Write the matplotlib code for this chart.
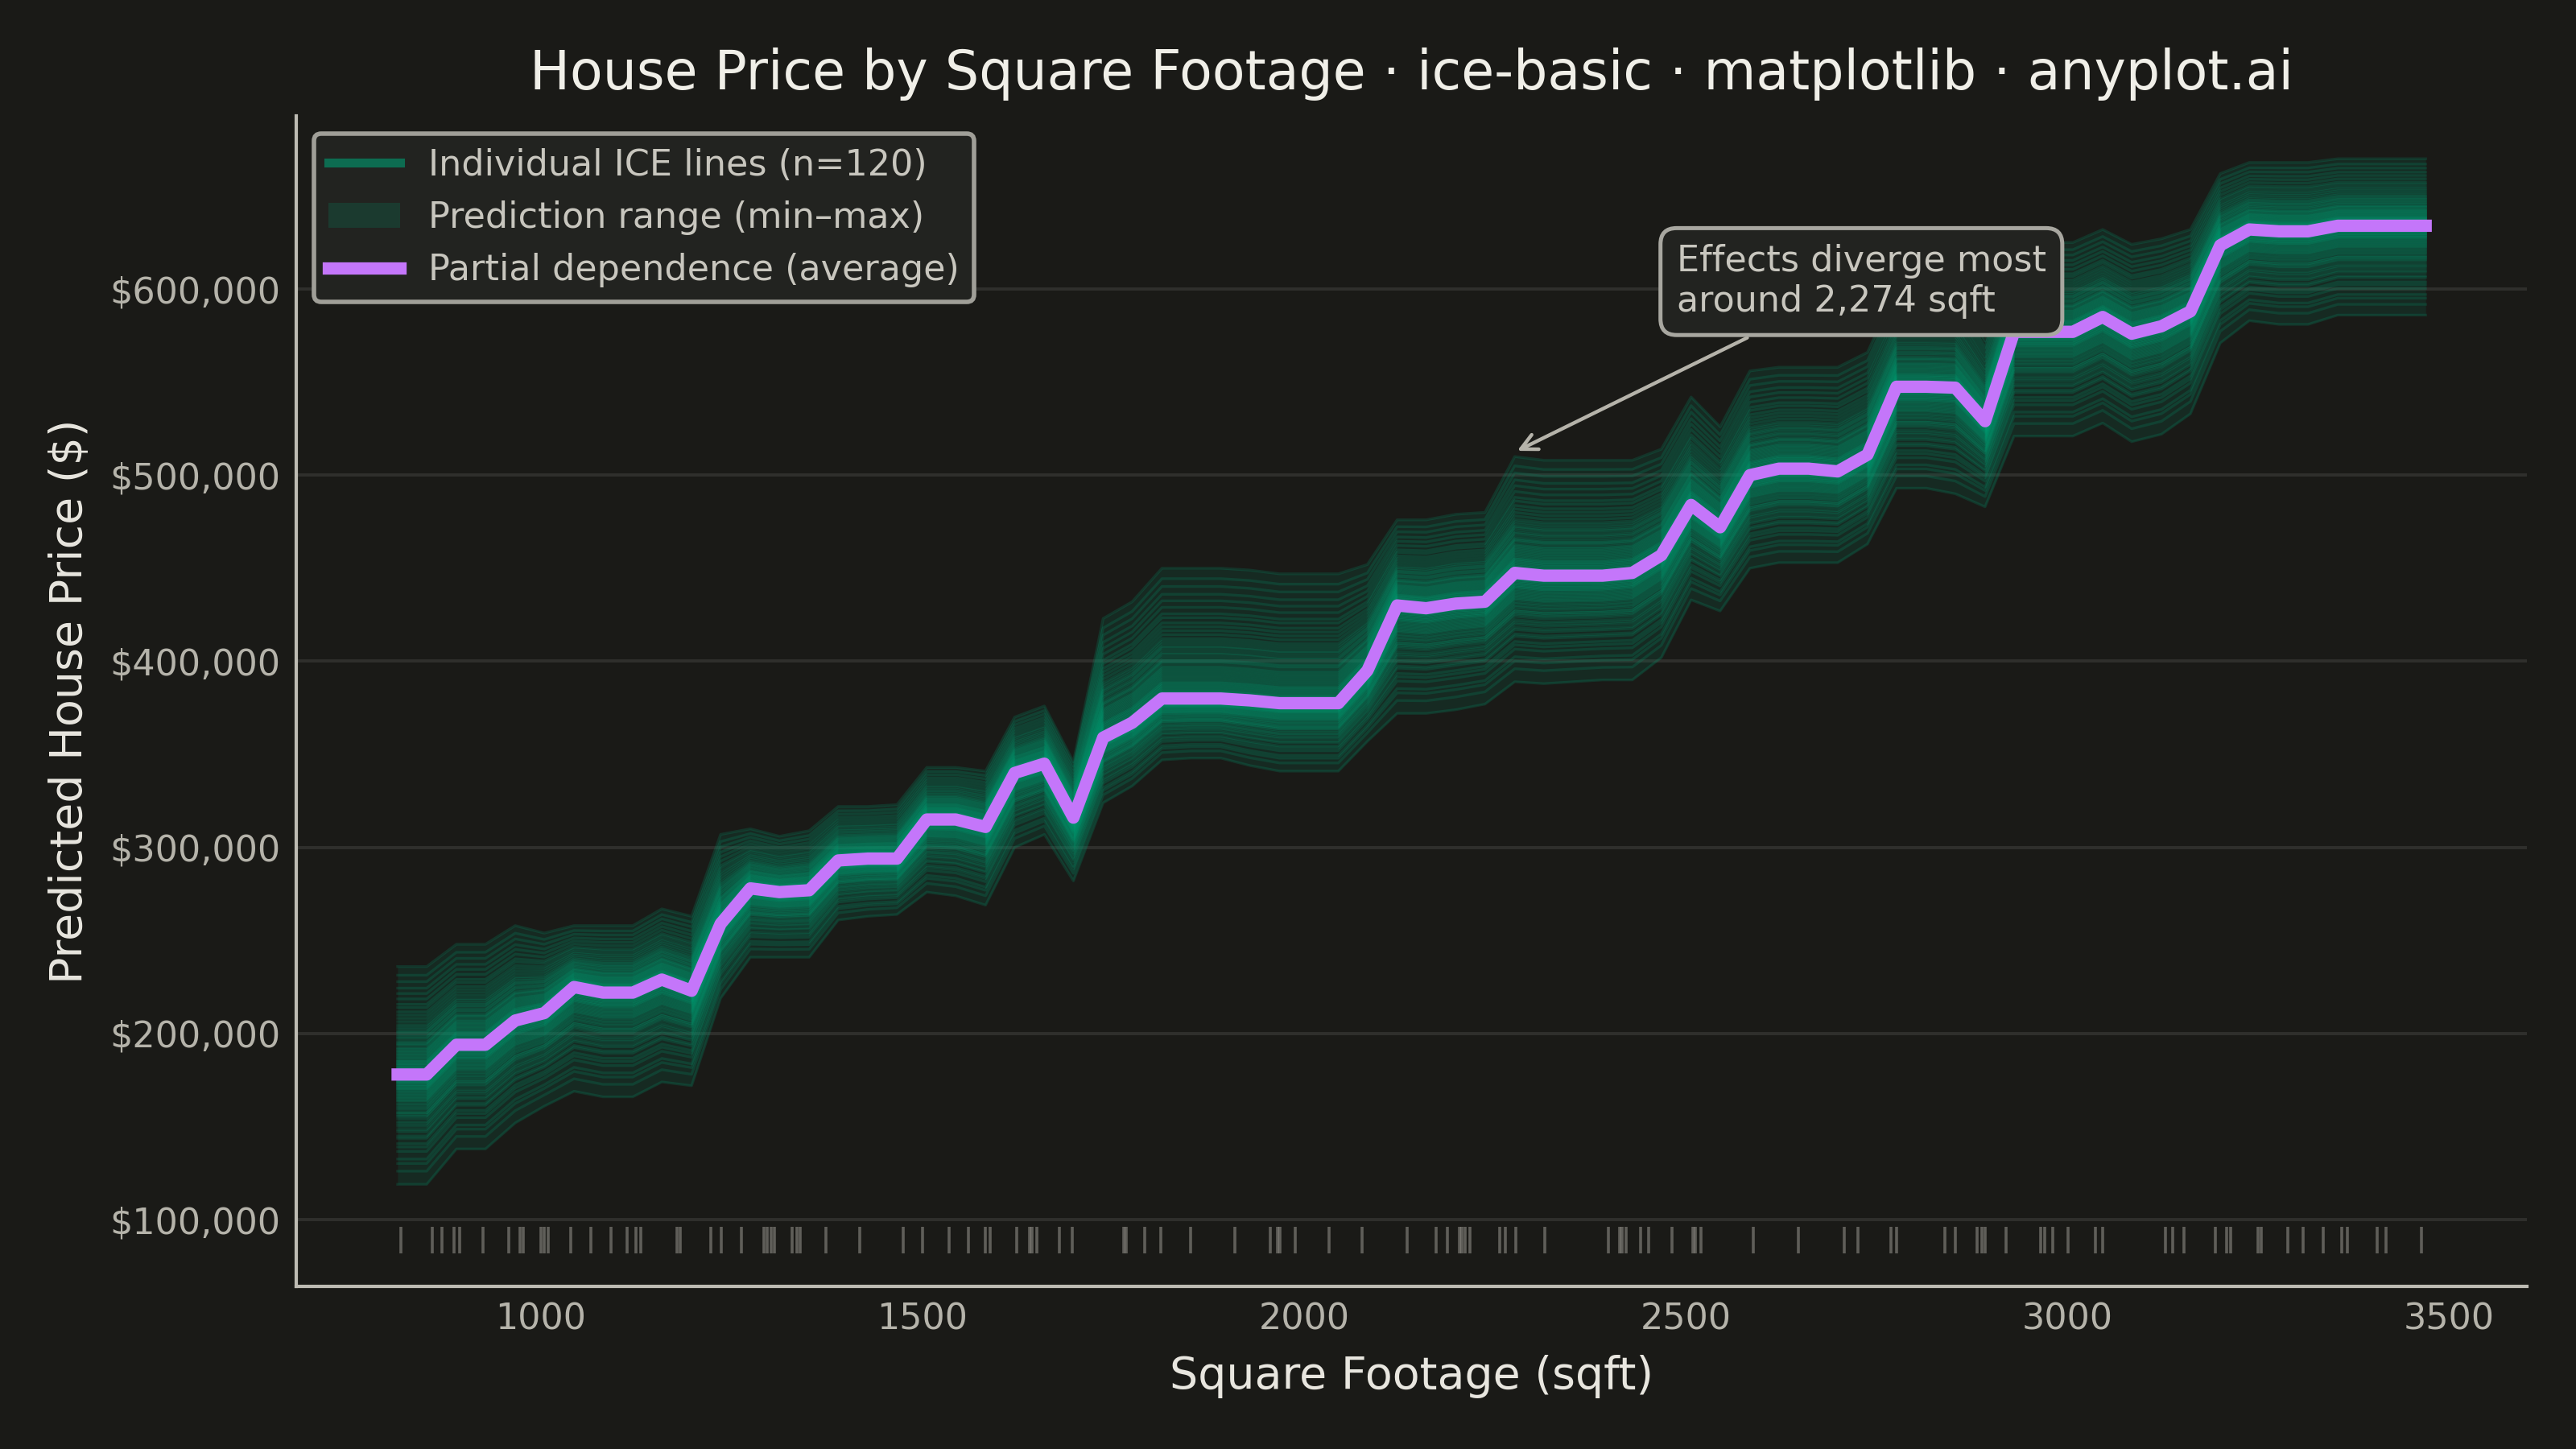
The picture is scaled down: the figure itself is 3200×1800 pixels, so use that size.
import numpy as np
import matplotlib.pyplot as plt
from matplotlib.lines import Line2D
from matplotlib.patches import Patch
from matplotlib.ticker import FuncFormatter

# =========================
# DATA
# =========================
sqft_grid = [813, 851, 890, 928, 967, 1005, 1044, 1082, 1121, 1159,
             1198, 1236, 1275, 1313, 1352, 1390, 1429, 1467, 1506, 1544,
             1583, 1621, 1660, 1698, 1737, 1775, 1814, 1852, 1891, 1929,
             1968, 2006, 2045, 2083, 2122, 2160, 2199, 2237, 2276, 2314,
             2353, 2391, 2430, 2468, 2507, 2545, 2584, 2622, 2661, 2699,
             2738, 2776, 2815, 2853, 2892, 2930, 2969, 3007, 3046, 3084,
             3123, 3161, 3200, 3238, 3277, 3315, 3354, 3392, 3431, 3469]

# partial dependence (average), thousands of $
pdp_k = [178, 178, 194, 194, 207, 211, 225, 222, 222, 229,
         223, 259, 278, 276, 277, 293, 294, 294, 315, 315,
         311, 340, 345, 316, 359, 367, 380, 380, 380, 379,
         377.5, 377.5, 377.5, 395, 430, 428.5, 431, 432, 447.5, 446,
         446, 446, 447.5, 457, 484, 472, 500, 503.5, 503.5, 502,
         511, 547.5, 547.5, 547, 529, 577, 577, 577, 585, 576,
         580, 588, 623.5, 632, 631, 631, 634, 634, 634, 634]

# lowest ICE curve, thousands of $
low_k = [119, 119, 138, 138, 152, 161, 169, 166, 166, 174,
         172, 219, 241, 241, 241, 261, 263, 264, 276, 274,
         269, 300, 307, 282, 324, 333, 347, 348, 348, 344,
         341, 341, 341, 357, 372, 372, 374, 377, 389, 388,
         389, 390, 390, 402, 433, 427, 450, 453, 453, 453,
         463, 493, 493, 490, 483, 521, 521, 521, 528, 518,
         522, 533, 571, 583, 581, 581, 586, 586, 586, 586]

# highest ICE curve, thousands of $
high_k = [236, 236, 248, 248, 258, 254, 258, 258, 258, 267,
          263, 307, 310, 306, 309, 322, 322, 323, 343, 343,
          341, 370, 376, 346, 423, 432, 450, 450, 450, 449,
          447, 447, 447, 452, 476, 476, 479, 480, 510, 508,
          508, 508, 508, 514, 542, 526, 556, 558, 558, 558,
          566, 600, 600, 600, 572, 625, 625, 625, 632, 624,
          627, 632, 662, 668, 668, 668, 670, 670, 670, 670]

# where each of the 120 houses sits in the band (-1 = lowest, 0 = average, 1 = highest)
ice_position = [-1.00, -0.88, -0.81, -0.77, -0.70, -0.66, -0.63, -0.58, -0.56, -0.52,
                -0.50, -0.47, -0.45, -0.43, -0.40, -0.38, -0.37, -0.35, -0.33, -0.31,
                -0.30, -0.28, -0.27, -0.25, -0.24, -0.23, -0.21, -0.20, -0.19, -0.18,
                -0.16, -0.15, -0.14, -0.13, -0.12, -0.11, -0.10, -0.09, -0.08, -0.07,
                -0.07, -0.06, -0.05, -0.04, -0.04, -0.03, -0.02, -0.02, -0.01, 0.00,
                0.01, 0.02, 0.02, 0.03, 0.04, 0.05, 0.05, 0.06, 0.07, 0.08,
                0.09, 0.10, 0.11, 0.12, 0.13, 0.14, 0.15, 0.17, 0.18, 0.19,
                0.21, 0.22, 0.24, 0.25, 0.27, 0.28, 0.30, 0.32, 0.34, 0.35,
                0.37, 0.39, 0.42, 0.44, 0.46, 0.49, 0.52, 0.55, 0.58, 0.62,
                0.65, 0.70, 0.75, 0.80, 0.86, 0.92, 1.00, -0.35, -0.22, -0.17,
                -0.13, -0.11, -0.09, -0.06, -0.05, -0.03, -0.01, 0.00, 0.01, 0.03,
                0.04, 0.06, 0.08, 0.10, 0.12, 0.16, 0.20, 0.23, 0.29, 0.40]

# observed square footage of the houses (rug)
rug_sqft = [817, 858, 871, 887, 894, 925, 959, 973, 977, 1001,
            1005, 1010, 1040, 1066, 1092, 1114, 1125, 1131, 1179, 1183,
            1223, 1237, 1263, 1293, 1297, 1302, 1306, 1330, 1336, 1340,
            1374, 1418, 1475, 1500, 1535, 1560, 1583, 1589, 1624, 1641,
            1644, 1650, 1680, 1696, 1764, 1767, 1791, 1812, 1851, 1910,
            1956, 1965, 1969, 1989, 2033, 2076, 2135, 2173, 2188, 2204,
            2207, 2211, 2217, 2256, 2264, 2277, 2315, 2399, 2413, 2417,
            2422, 2441, 2451, 2482, 2509, 2513, 2520, 2588, 2647, 2708,
            2725, 2769, 2776, 2839, 2853, 2882, 2888, 2892, 2919, 2965,
            2970, 2981, 3001, 3037, 3046, 3128, 3138, 3152, 3194, 3208,
            3214, 3249, 3254, 3288, 3309, 3335, 3359, 3366, 3405, 3417, 3463]

# =========================
# STYLE
# =========================
BG = '#1A1A17'
GREEN = '#009E73'
PURPLE = '#C476FA'
TITLE_C = '#F0EFE8'
LABEL_C = '#E8E6DF'
TICK_C = '#B5B3AA'
TEXT_C = '#C8C6BE'

x = np.array(sqft_grid, dtype=float)
pdp = np.array(pdp_k) * 1000
low = np.array(low_k) * 1000
high = np.array(high_k) * 1000

fig, ax = plt.subplots(figsize=(16, 9), dpi=200)
fig.patch.set_facecolor(BG)
ax.set_facecolor(BG)

# prediction range
ax.fill_between(x, low, high, color=GREEN, alpha=0.12, lw=0)

# individual ICE curves
for q in ice_position:
    curve = np.where(q >= 0, pdp + q * (high - pdp), pdp + q * (pdp - low))
    ax.plot(x, curve, color=GREEN, alpha=0.2, lw=1.2)

# partial dependence
ax.plot(x, pdp, color=PURPLE, lw=5.5, zorder=5)

# rug of observed values
ax.vlines(rug_sqft, 82000, 96000, color=TICK_C, alpha=0.45, lw=1.3)

# annotation
ax.annotate('Effects diverge most\naround 2,274 sqft',
            xy=(2274, 512000), xytext=(2730, 604000),
            ha='center', va='center', multialignment='left',
            fontsize=16, color=TEXT_C, zorder=6,
            bbox=dict(boxstyle='round,pad=0.45', fc='#222320', ec='#A8A7A0', lw=1.8),
            arrowprops=dict(arrowstyle='->', color=TICK_C, lw=1.6,
                            mutation_scale=18))

# axes
ax.set_ylim(64000, 693000)
ax.set_xticks([1000, 1500, 2000, 2500, 3000, 3500])
ax.yaxis.set_major_formatter(FuncFormatter(lambda v, p: f'${v:,.0f}'))
ax.tick_params(colors=TICK_C, labelsize=16, length=0, pad=7)
ax.yaxis.grid(True, color=TITLE_C, alpha=0.1, lw=1.4)
ax.set_axisbelow(True)
for s in ['top', 'right']:
    ax.spines[s].set_visible(False)
for s in ['left', 'bottom']:
    ax.spines[s].set_color('#BDBBB3')
    ax.spines[s].set_linewidth(1.5)

ax.set_title('House Price by Square Footage · ice-basic · matplotlib · anyplot.ai',
             fontsize=24, color=TITLE_C, pad=12)
ax.set_xlabel('Square Footage (sqft)', fontsize=20, color=LABEL_C, labelpad=8)
ax.set_ylabel('Predicted House Price ($)', fontsize=20, color=LABEL_C, labelpad=8)

# legend
handles = [
    Line2D([0], [0], color=GREEN, alpha=0.6, lw=4),
    Patch(facecolor=GREEN, alpha=0.19, edgecolor='none'),
    Line2D([0], [0], color=PURPLE, lw=5.5),
]
labels = ['Individual ICE lines (n=120)', 'Prediction range (min–max)',
          'Partial dependence (average)']
leg = ax.legend(handles, labels, loc='upper left', fontsize=16, frameon=True,
                facecolor='#222320', edgecolor='#A09F98', framealpha=1,
                labelcolor=TEXT_C)
leg.get_frame().set_linewidth(2)

plt.subplots_adjust(left=0.115, right=0.981, top=0.92, bottom=0.112)
plt.savefig('out.png', dpi=200, facecolor=BG)
